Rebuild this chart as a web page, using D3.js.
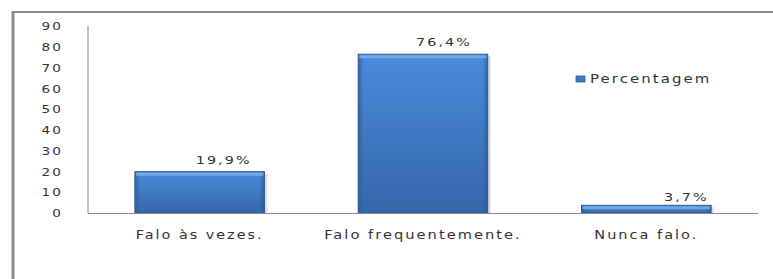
<!DOCTYPE html>
<html><head><meta charset="utf-8">
<script src="https://cdn.jsdelivr.net/npm/d3@7"></script>
<style>body{margin:0;background:#fff}svg{display:block}text{font-family:"DejaVu Sans",sans-serif;fill:#333}</style>
</head><body><svg id="c" width="773" height="279"></svg>
<script>
const categories = ["Falo às vezes.", "Falo frequentemente.", "Nunca falo."];
const values = [19.9, 76.4, 3.7];
const valueLabels = ["19,9%", "76,4%", "3,7%"];
const yTicks = [0, 10, 20, 30, 40, 50, 60, 70, 80, 90];
const seriesName = "Percentagem";

const svg = d3.select("#c");
const W = 773, H = 279;
const stretch = 1.6;
function widen(sel){
  sel.each(function(){
    const w = this.getComputedTextLength();
    d3.select(this).style("letter-spacing","1.6px")
      .attr("textLength", w*stretch).attr("lengthAdjust","spacingAndGlyphs");
  });
}

// frame
svg.append("line").attr("x1",12).attr("x2",W).attr("y1",12).attr("y2",12).attr("stroke","#8a8a8a").attr("stroke-width",2);
svg.append("line").attr("x1",13).attr("x2",13).attr("y1",11).attr("y2",H).attr("stroke","#8a8a8a").attr("stroke-width",3);

const x0 = 88, x1 = 758, yBase = 213, yTop = 26;
const x = d3.scaleBand().domain(categories).range([x0, x1]).paddingInner(0.42).paddingOuter(0.21);
const y = d3.scaleLinear().domain([0, 90]).range([yBase, yTop]);

const defs = svg.append("defs");
const g1 = defs.append("linearGradient").attr("id","bg").attr("x1",0).attr("y1",0).attr("x2",0).attr("y2",1);
g1.append("stop").attr("offset","0%").attr("stop-color","#4a8bdb");
g1.append("stop").attr("offset","100%").attr("stop-color","#3566ab");
const g2 = defs.append("linearGradient").attr("id","bh").attr("x1",0).attr("y1",0).attr("x2",1).attr("y2",0);
g2.append("stop").attr("offset","0%").attr("stop-color","#2d5a95").attr("stop-opacity",0.8);
g2.append("stop").attr("offset","4%").attr("stop-color","#2d5a95").attr("stop-opacity",0);
g2.append("stop").attr("offset","96%").attr("stop-color","#2d5a95").attr("stop-opacity",0);
g2.append("stop").attr("offset","100%").attr("stop-color","#2d5a95").attr("stop-opacity",0.8);

// y axis ticks
const yAxis = d3.axisLeft(y).tickValues(yTicks).tickSize(0).tickPadding(0);
const ga = svg.append("g").attr("transform",`translate(${x0 - 25},0)`).call(yAxis);
ga.select(".domain").remove();
ga.selectAll("text").attr("font-size",10.5).attr("fill","#333").attr("font-family","DejaVu Sans").attr("dy","0.35em").call(widen);

// bars
const data = categories.map((c,i)=>({c, v: values[i], l: valueLabels[i]}));
const bars = svg.append("g");
data.forEach(d=>{
  const bx = x(d.c), bw = x.bandwidth(), by = y(d.v), bh = yBase - by;
  bars.append("rect").attr("x",bx+3).attr("y",by+2).attr("width",bw).attr("height",bh-1).attr("fill","#c8c8c8").attr("opacity",0.6);
  bars.append("rect").attr("x",bx).attr("y",by).attr("width",bw).attr("height",bh).attr("fill","url(#bg)").attr("stroke","#2c5a93").attr("stroke-width",1);
  bars.append("rect").attr("x",bx).attr("y",by).attr("width",bw).attr("height",bh).attr("fill","url(#bh)");
  bars.append("rect").attr("x",bx+1).attr("y",by+1).attr("width",bw-2).attr("height",Math.min(3,bh-2)).attr("fill","#7fb0ea").attr("opacity",0.8);
});

// axis lines
svg.append("line").attr("x1",x0).attr("x2",x0).attr("y1",yTop).attr("y2",yBase).attr("stroke","#8a8a8a").attr("stroke-width",1);
svg.append("line").attr("x1",x0).attr("x2",x1).attr("y1",yBase+0.5).attr("y2",yBase+0.5).attr("stroke","#8a8a8a").attr("stroke-width",1);

// value labels
const offs = [24, 21, 40];
svg.append("g").selectAll("text").data(data).join("text")
  .attr("x",(d,i)=>x(d.c)+x.bandwidth()/2+offs[i])
  .attr("y",(d,i)=>y(d.v)-(i===2?4:8))
  .attr("text-anchor","middle").attr("font-size",11)
  .text(d=>d.l).call(widen);

// category labels
const xAxis = d3.axisBottom(x).tickSize(0).tickPadding(0);
const gx = svg.append("g").attr("transform",`translate(0,${yBase+22})`).call(xAxis);
gx.select(".domain").remove();
gx.selectAll("text").attr("font-size",11.5).attr("fill","#333").attr("font-family","DejaVu Sans").attr("dy","0.35em").call(widen);

// legend
const lg = svg.append("g");
lg.append("rect").attr("x",576).attr("y",76).attr("width",9).attr("height",6).attr("fill","#3d7cc9").attr("stroke","#2c5a93").attr("stroke-width",0.8);
lg.append("text").attr("x",590).attr("y",79).attr("dy","0.35em").attr("font-size",11.5).text(seriesName).call(widen);
</script></body></html>
